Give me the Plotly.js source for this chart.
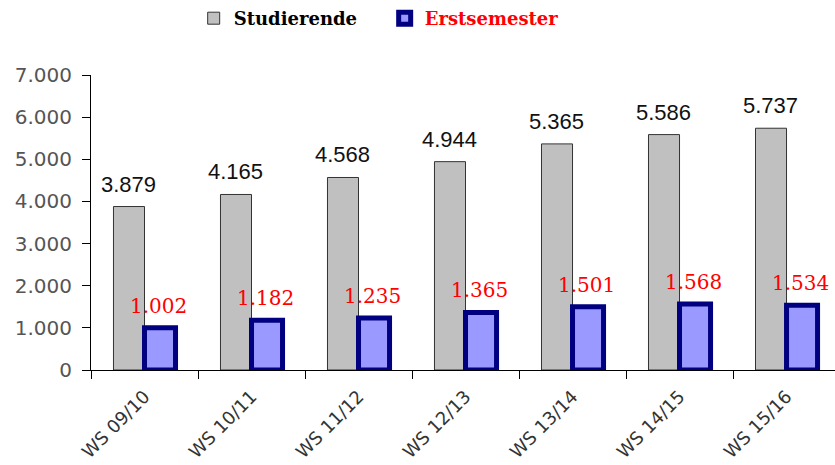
<!DOCTYPE html>
<html>
<head>
<meta charset="utf-8">
<script src="https://cdn.plot.ly/plotly-3.0.1.min.js"></script>
<style>html,body{margin:0;padding:0;background:#fff;overflow:hidden}</style>
</head>
<body>
<div id="chart" style="width:835px;height:465px"></div>
<script>
var categories = ['WS 09/10','WS 10/11','WS 11/12','WS 12/13','WS 13/14','WS 14/15','WS 15/16'];
var studierende = [3879, 4165, 4568, 4944, 5365, 5586, 5737];
var erstsemester = [1002, 1182, 1235, 1365, 1501, 1568, 1534];
var yTicks = [0, 1000, 2000, 3000, 4000, 5000, 6000, 7000];

function fmt(v){
  var s = String(Math.round(v));
  return s.replace(/\B(?=(\d{3})+(?!\d))/g, '.');
}

var traces = [
  {
    type:'bar', name:'<b>Studierende</b>', x:categories, y:studierende,
    marker:{color:'#C0C0C0', line:{color:'#333333', width:1}},
    hoverinfo:'none'
  },
  {
    type:'bar', name:'<b><span style="color:#FF0000">Erstsemester</span></b>', x:categories, y:erstsemester,
    marker:{color:'#9999FF', line:{color:'#000080', width:5}},
    hoverinfo:'none'
  }
];

var annotations = [];
categories.forEach(function(c,i){
  annotations.push({x:c, y:studierende[i], xref:'x', yref:'y', text:fmt(studierende[i]),
    showarrow:false, xanchor:'center', yanchor:'bottom', xshift:-16, yshift:8,
    font:{family:'Liberation Sans, Arial, sans-serif', size:22, color:'#111111'}});
  annotations.push({x:c, y:erstsemester[i], xref:'x', yref:'y', text:fmt(erstsemester[i]),
    showarrow:false, xanchor:'center', yanchor:'bottom', xshift:14, yshift:8,
    font:{family:'DejaVu Serif, serif', size:20, color:'#FF0000'}});
});

var layout = {
  width:835, height:465,
  margin:{l:91, r:0, t:75, b:95, pad:0},
  paper_bgcolor:'#ffffff', plot_bgcolor:'#ffffff',
  separators:',.',
  barmode:'group', bargap:0.42, bargroupgap:0,
  showlegend:true,
  legend:{orientation:'h', x:0.138, xanchor:'left', y:1.193, yanchor:'middle',
    font:{family:'DejaVu Serif, serif', size:18, color:'#000000'},
    entrywidth:146, entrywidthmode:'pixels', traceorder:'normal', bgcolor:'rgba(0,0,0,0)'},
  xaxis:{type:'category', range:[-0.5, 6.453], showline:true, linecolor:'#000', linewidth:1,
    ticks:'outside', ticklen:8, tickcolor:'#000', tickson:'boundaries', tickangle:-45,
    ticklabelstandoff:8,
    tickfont:{family:'DejaVu Sans, Verdana, sans-serif', size:18, color:'#333333'},
    showgrid:false, zeroline:false, fixedrange:true},
  yaxis:{range:[0,7000], tickvals:yTicks, tickformat:',d', showline:true, linecolor:'#000', linewidth:1,
    ticks:'outside', ticklen:8, tickcolor:'#000', ticklabelstandoff:6,
    tickfont:{family:'DejaVu Sans, Verdana, sans-serif', size:20, color:'#555555'},
    showgrid:false, zeroline:false, fixedrange:true},
  annotations:annotations
};

Plotly.newPlot('chart', traces, layout, {staticPlot:true, displayModeBar:false});
</script>
</body>
</html>
